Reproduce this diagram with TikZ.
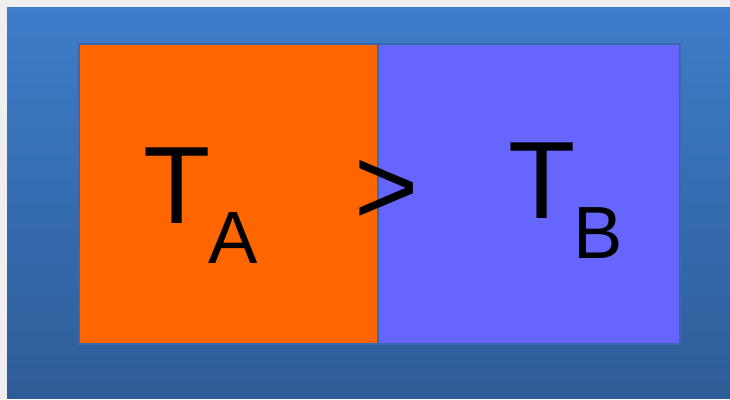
\documentclass[tikz,border=0pt]{standalone}
\usepackage{fontspec}
\setmainfont{Liberation Sans}
\definecolor{bgray}{HTML}{EFEFEF}
\definecolor{topblue}{HTML}{3D7DCA}
\definecolor{botblue}{HTML}{2E5C97}
\definecolor{orangebox}{HTML}{FF6600}
\definecolor{violetbox}{HTML}{6666FF}
\definecolor{edgeblue}{HTML}{3A68B0}
\tikzset{
  boxstyle/.style={draw=edgeblue, line width=1.2pt},
  bigtext/.style={inner sep=0pt, anchor=base, font=\fontsize{110}{110}\selectfont},
  subtext/.style={inner sep=0pt, anchor=base, font=\fontsize{74}{74}\selectfont},
}
\begin{document}
\begin{tikzpicture}[x=1pt,y=-1pt]
\useasboundingbox (0,0) rectangle (730,399);
\fill[bgray] (0,0) rectangle (730,399);
\shade[top color=topblue, bottom color=botblue] (7,7) rectangle (730,398);
\draw[boxstyle, fill=orangebox] (79,44) rectangle (378,344);
\draw[boxstyle, fill=violetbox] (378,44) rectangle (680,344);
\node[bigtext] (ta) at (177.5,223) {T};
\node[subtext] (a) at (233.5,263) {A};
\node[bigtext] (gt) at (386.5,224) {>};
\node[bigtext] (tb) at (542.5,218) {T};
\node[subtext] (b) at (598,258) {B};
\end{tikzpicture}
\end{document}
